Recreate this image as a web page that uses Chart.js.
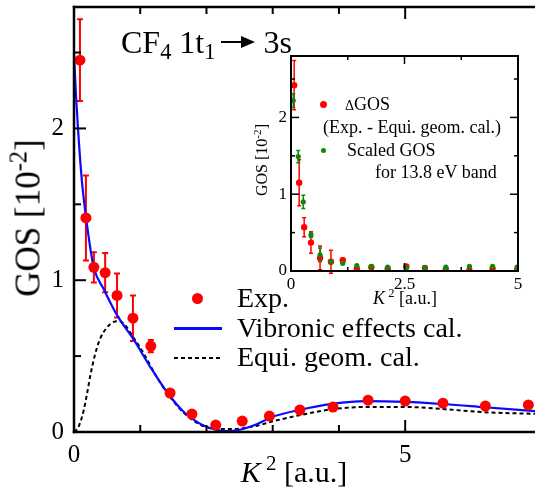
<!DOCTYPE html>
<html>
<head>
<meta charset="utf-8">
<script src="https://cdn.jsdelivr.net/npm/chart.js@4.4.0/dist/chart.umd.min.js"></script>
<style>
html, body { margin: 0; padding: 0; background: #fff; overflow: hidden; }
#wrap { position: relative; width: 535px; height: 499px; font-family: "Liberation Serif", "Times New Roman", serif; color: #000; }
#main { position: absolute; left: 0; top: 0; }
#ins { position: absolute; left: 255px; top: 50px; }
.t { position: absolute; white-space: nowrap; line-height: 1; }
.t sub { font-size: 70%; vertical-align: -0.25em; line-height: 0; }
.t sup { font-size: 70%; vertical-align: 0.55em; line-height: 0; }
.rot { transform: translate(-50%, -50%) rotate(-90deg); }
.ctr { transform: translate(-50%, -50%); }
.dot { position: absolute; border-radius: 50%; }
.arrow { display: inline-block; position: relative; width: 22px; height: 2.5px; background: #000; vertical-align: 0.3em; margin: 0 20px 0 6px; }
.arrow:after { content: ""; position: absolute; left: 20px; top: -5px; border-left: 14px solid #000; border-top: 6px solid transparent; border-bottom: 6px solid transparent; }
</style>
</head>
<body>
<div id="wrap">
  <canvas id="main" width="535" height="499"></canvas>
  <canvas id="ins" width="275" height="255"></canvas>

  <div class="t" style="left:121px;top:26px;font-size:32px">CF<sub>4</sub> 1t<sub>1</sub><span class="arrow"></span>3s</div>

  <div class="t rot" style="left:28px;top:218px;font-size:35px">GOS [10<sup>-2</sup>]</div>
  <div class="t ctr" style="left:294px;top:472px;font-size:30px"><i>K</i><sup> 2</sup> [a.u.]</div>

  <div class="dot" style="left:192px;top:293px;width:11px;height:11px;background:#ff0000"></div>
  <div class="t" style="left:237px;top:284px;font-size:28px">Exp.</div>
  <div style="position:absolute;left:174px;top:327px;width:48px;height:2.5px;background:#0a0aff"></div>
  <div class="t" style="left:237px;top:314px;font-size:28px">Vibronic effects cal.</div>
  <div style="position:absolute;left:174px;top:357px;width:48px;height:2px;background:repeating-linear-gradient(90deg,#000 0 4px,transparent 4px 7px)"></div>
  <div class="t" style="left:237px;top:343px;font-size:28px">Equi. geom. cal.</div>

  <div class="t rot" style="left:262px;top:160px;font-size:16px">GOS [10<sup>-2</sup>]</div>
  <div class="t ctr" style="left:405px;top:298px;font-size:18px"><i>K</i><sup> 2</sup> [a.u.]</div>

  <div class="dot" style="left:319.5px;top:100.5px;width:7px;height:7px;background:#ff0000"></div>
  <div class="t" style="left:345px;top:95px;font-size:18px"><span style="font-size:14px">&Delta;</span>GOS</div>
  <div class="t" style="left:323px;top:118px;font-size:18px">(Exp. - Equi. geom. cal.)</div>
  <div class="dot" style="left:320.5px;top:147.5px;width:5px;height:5px;background:#0a8a0a"></div>
  <div class="t" style="left:347px;top:141px;font-size:18px">Scaled GOS</div>
  <div class="t" style="left:375px;top:163px;font-size:18px">for 13.8 eV band</div>
</div>

<script>
// main plot: measured points
var expK2  = [0.09, 0.18, 0.30, 0.47, 0.65, 0.89, 1.16, 1.45, 1.78, 2.14, 2.54, 2.95, 3.41, 3.91, 4.44, 5.00, 5.57, 6.21, 6.86];
var expGOS = [2.45, 1.41, 1.085, 1.05, 0.90, 0.75, 0.566, 0.257, 0.118, 0.046, 0.072, 0.105, 0.145, 0.164, 0.21, 0.204, 0.19, 0.171, 0.178];
var expErr = [0.27, 0.28, 0.10, 0.13, 0.145, 0.15, 0.04, 0, 0, 0, 0, 0, 0, 0, 0, 0, 0, 0, 0];

// vibronic effects calculation
var vibK2  = [0, 0.03, 0.06, 0.12, 0.18, 0.25, 0.30, 0.45, 0.65, 0.90, 1.15, 1.40, 1.65, 1.90, 2.10, 2.30, 2.50, 2.75, 3.00, 3.40, 3.90, 4.40, 5.00, 5.60, 6.20, 6.96];
var vibGOS = [2.49, 2.22, 2.0, 1.65, 1.42, 1.2, 1.08, 0.94, 0.77, 0.61, 0.43, 0.265, 0.135, 0.055, 0.02, 0.006, 0.015, 0.05, 0.10, 0.145, 0.185, 0.203, 0.198, 0.183, 0.163, 0.138];

// equilibrium geometry calculation
var equK2  = [0, 0.05, 0.10, 0.15, 0.20, 0.25, 0.30, 0.35, 0.40, 0.50, 0.60, 0.66, 0.75, 0.90, 1.05, 1.20, 1.40, 1.65, 1.90, 2.15, 2.40, 2.75, 3.00, 3.40, 3.90, 4.40, 5.00, 5.60, 6.20, 6.96];
var equGOS = [0, 0.02, 0.07, 0.15, 0.26, 0.38, 0.48, 0.56, 0.62, 0.69, 0.725, 0.73, 0.715, 0.62, 0.52, 0.40, 0.26, 0.13, 0.05, 0.02, 0.02, 0.04, 0.07, 0.11, 0.15, 0.165, 0.165, 0.15, 0.13, 0.12];

// inset: delta GOS and scaled GOS
var dK2     = [0.07, 0.18, 0.29, 0.44, 0.64, 0.88, 1.14, 1.45, 1.77, 2.13, 2.54, 2.95, 3.41, 3.93, 4.44, 4.98];
var dGOS    = [2.42, 1.15, 0.57, 0.37, 0.17, 0.12, 0.14, 0.03, 0.05, 0.03, 0.06, 0.04, 0.02, 0.01, 0.03, 0.01];
var dErr    = [0.32, 0.30, 0.125, 0.14, 0.155, 0.15, 0.03, 0, 0, 0, 0, 0, 0, 0, 0, 0];
var scK2    = [0.05, 0.16, 0.27, 0.44, 0.64, 0.88, 1.14, 1.45, 1.77, 2.13, 2.54, 2.95, 3.41, 3.93, 4.44, 4.98];
var scGOS   = [2.22, 1.49, 0.90, 0.47, 0.21, 0.12, 0.10, 0.07, 0.06, 0.05, 0.04, 0.045, 0.05, 0.06, 0.06, 0.05];
var scErr   = [0.09, 0.08, 0.085, 0.03, 0.09, 0, 0, 0, 0, 0, 0.02, 0, 0, 0, 0, 0];

// labelled ticks
var mainXLabels = [0, 5];
var mainYLabels = [0, 1, 2];
var insXLabels = [0, 2.5, 5];
var insYLabels = [0, 1, 2];

function pts(xs, ys) {
  return xs.map(function (x, i) { return { x: x, y: ys[i] }; });
}
function has(list, v) {
  return list.some(function (l) { return Math.abs(l - v) < 1e-6; });
}
function onStep(v, step) {
  return Math.abs(v / step - Math.round(v / step)) < 1e-6;
}

var errorBars = {
  id: 'errorBars',
  beforeDatasetsDraw: function (chart) {
    var ctx = chart.ctx, xs = chart.scales.x, ys = chart.scales.y;
    chart.data.datasets.forEach(function (ds) {
      if (!ds.errors) return;
      ctx.save();
      ctx.strokeStyle = ds.backgroundColor;
      ctx.lineWidth = ds.errWidth;
      ctx.beginPath();
      ds.data.forEach(function (p, i) {
        var e = ds.errors[i];
        if (!e) return;
        var px = xs.getPixelForValue(p.x);
        var top = ys.getPixelForValue(p.y + e), bot = ys.getPixelForValue(p.y - e);
        var c = ds.capHalf;
        ctx.moveTo(px, top); ctx.lineTo(px, bot);
        ctx.moveTo(px - c, top); ctx.lineTo(px + c, top);
        ctx.moveTo(px - c, bot); ctx.lineTo(px + c, bot);
      });
      ctx.stroke();
      ctx.restore();
    });
  }
};

// box and inward ticks
var frame = {
  id: 'frame',
  afterDraw: function (chart, args, o) {
    var ctx = chart.ctx, a = chart.chartArea, xs = chart.scales.x, ys = chart.scales.y;
    var w = o.width, h = w / 2;
    var r = o.right ? a.right : chart.width + 2;
    ctx.save();
    ctx.setLineDash([]);
    ctx.fillStyle = '#000';
    ctx.fillRect(a.left - h, a.top - h, r - a.left + w, w);
    ctx.fillRect(a.left - h, a.bottom - h, r - a.left + w, w);
    ctx.fillRect(a.left - h, a.top - h, w, a.bottom - a.top + w);
    if (o.right) ctx.fillRect(a.right - h, a.top - h, w, a.bottom - a.top + w);
    var tw = o.tickWidth;
    xs.ticks.forEach(function (t) {
      var px = xs.getPixelForValue(t.value);
      var len = has(o.xLabels, t.value) ? o.major : o.minor;
      ctx.fillRect(px - tw / 2, a.bottom - len, tw, len);
      ctx.fillRect(px - tw / 2, a.top, tw, len);
    });
    ys.ticks.forEach(function (t) {
      var py = ys.getPixelForValue(t.value);
      var len = has(o.yLabels, t.value) ? o.major : o.minor;
      ctx.fillRect(a.left, py - tw / 2, len, tw);
      if (o.right) ctx.fillRect(a.right - len, py - tw / 2, len, tw);
    });
    ctx.restore();
  }
};

function axis(min, max, step, labels, size, pad, fixed) {
  return {
    type: 'linear', min: min, max: max,
    grid: { display: false, drawTicks: false },
    border: { display: false },
    afterBuildTicks: function (s) { s.ticks = s.ticks.filter(function (t) { return onStep(t.value, step); }); },
    afterFit: function (s) {
      fixed(s);
      s.paddingTop = 0; s.paddingBottom = 0; s.paddingLeft = 0; s.paddingRight = 0;
    },
    ticks: {
      stepSize: step, autoSkip: false, maxRotation: 0, padding: pad, color: '#000',
      font: { family: 'Liberation Serif', size: size },
      callback: function (v) { return has(labels, v) ? String(v) : ''; }
    }
  };
}

new Chart(document.getElementById('main'), {
  type: 'scatter',
  data: {
    datasets: [
      { label: 'Exp.', data: pts(expK2, expGOS), errors: expErr, errWidth: 2, capHalf: 3,
        backgroundColor: '#ff0000', borderWidth: 0, pointRadius: 5.5, order: 0 },
      { label: 'Vibronic effects cal.', data: pts(vibK2, vibGOS), showLine: true, pointRadius: 0,
        borderColor: '#0a0aff', borderWidth: 2.2, cubicInterpolationMode: 'monotone', order: 1 },
      { label: 'Equi. geom. cal.', data: pts(equK2, equGOS), showLine: true, pointRadius: 0,
        borderColor: '#000', borderWidth: 2, borderDash: [4, 3], cubicInterpolationMode: 'monotone', order: 2 }
    ]
  },
  options: {
    responsive: false, animation: false,
    layout: { autoPadding: false, padding: { top: 7, left: 0, right: 0, bottom: 0 } },
    plugins: {
      legend: { display: false }, tooltip: { enabled: false },
      frame: { width: 2.5, tickWidth: 2, major: 12, minor: 7, right: false, xLabels: mainXLabels, yLabels: mainYLabels }
    },
    scales: {
      x: axis(0, 6.96, 1, mainXLabels, 25, 8, function (s) { s.height = 67; }),
      y: axis(0, 2.8, 0.5, mainYLabels, 25, 10, function (s) { s.width = 74; })
    }
  },
  plugins: [errorBars, frame]
});

new Chart(document.getElementById('ins'), {
  type: 'scatter',
  data: {
    datasets: [
      { label: 'ΔGOS', data: pts(dK2, dGOS), errors: dErr, errWidth: 1.5, capHalf: 2,
        backgroundColor: '#ff0000', borderWidth: 0, pointRadius: 3.2, order: 1 },
      { label: 'Scaled GOS', data: pts(scK2, scGOS), errors: scErr, errWidth: 1.5, capHalf: 2,
        backgroundColor: '#0a8a0a', borderWidth: 0, pointRadius: 2.6, order: 0 }
    ]
  },
  options: {
    responsive: false, animation: false,
    layout: { autoPadding: false, padding: { top: 6, left: 0, right: 12, bottom: 0 } },
    plugins: {
      legend: { display: false }, tooltip: { enabled: false },
      frame: { width: 2, tickWidth: 1.5, major: 8, minor: 4, right: true, xLabels: insXLabels, yLabels: insYLabels }
    },
    scales: {
      x: axis(0, 5, 1.25, insXLabels, 17, 3, function (s) { s.height = 34; }),
      y: axis(0, 2.8, 0.5, insYLabels, 17, 4, function (s) { s.width = 36; })
    }
  },
  plugins: [errorBars, frame]
});
</script>
</body>
</html>
